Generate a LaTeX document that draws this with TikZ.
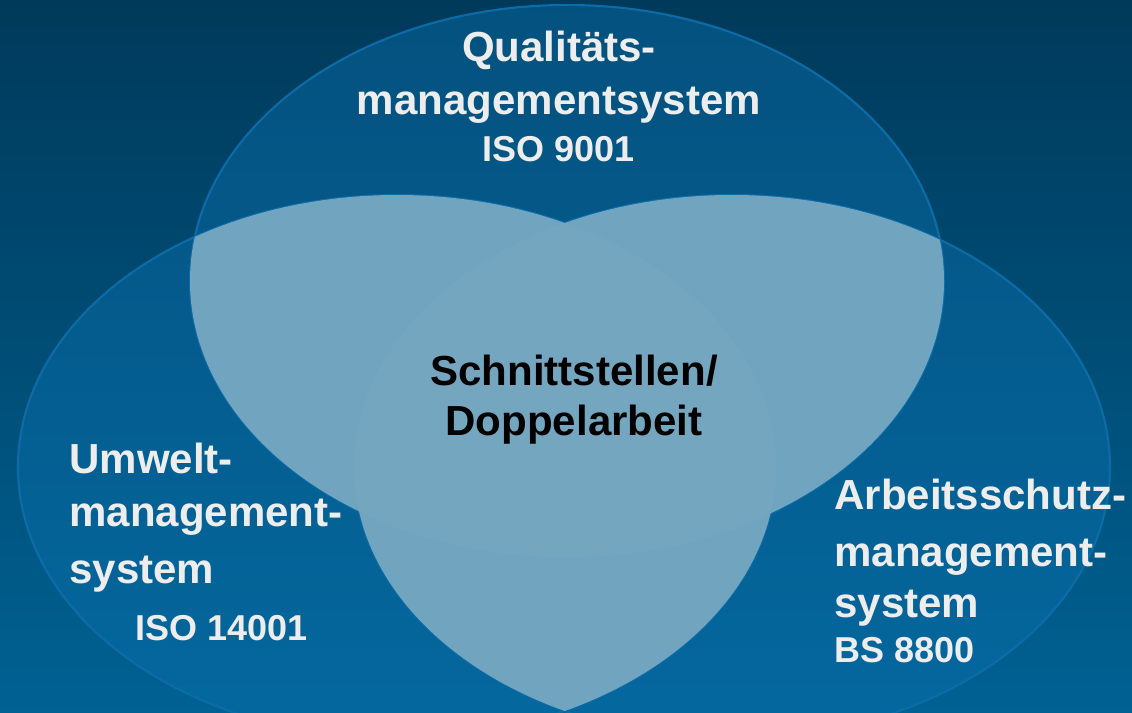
\documentclass[tikz,border=0pt]{standalone}
\usepackage{fontspec}
\setmainfont{Liberation Sans}
\definecolor{bgtop}{HTML}{003A5B}
\definecolor{bgbottom}{HTML}{006192}
\definecolor{ringfill}{HTML}{0A72B0}
\definecolor{ringline}{HTML}{0B6CA8}
\definecolor{overlap}{HTML}{76A7C1}
\definecolor{labeltext}{HTML}{EDEDED}
\begin{document}
\begin{tikzpicture}[x=0.025cm,y=0.025cm,
	ring/.style={fill=ringfill,fill opacity=0.42},
	ringedge/.style={draw=ringline,line width=1.5pt},
	ringtext/.style={inner sep=0pt,text=labeltext,font=\fontsize{29.9}{38}\selectfont\bfseries},
	coretext/.style={inner sep=0pt,text=black,align=center,font=\fontsize{29.9}{35.6}\selectfont\bfseries}]
	\useasboundingbox (0,0) rectangle (1132,712);
	\shade[top color=bgtop,bottom color=bgbottom] (0,0) rectangle (1132,712);
	% the three systems
	\fill[ring] (567,431) ellipse [x radius=377,y radius=276];
	\fill[ring] (397,245) ellipse [x radius=379,y radius=272];
	\fill[ring] (732,245) ellipse [x radius=378,y radius=272];
	\draw[ringedge] (567,431) ellipse [x radius=377,y radius=276];
	\draw[ringedge] (397,245) ellipse [x radius=379,y radius=272];
	\draw[ringedge] (732,245) ellipse [x radius=378,y radius=272];
	% overlaps
	\begin{scope}[fill opacity=0.96]
		\begin{scope}
			\clip (567,431) ellipse [x radius=377,y radius=276];
			\fill[overlap] (397,245) ellipse [x radius=379,y radius=272];
			\fill[overlap] (732,245) ellipse [x radius=378,y radius=272];
		\end{scope}
		\begin{scope}
			\clip (397,245) ellipse [x radius=379,y radius=272];
			\fill[overlap] (732,245) ellipse [x radius=378,y radius=272];
		\end{scope}
	\end{scope}
	\node[ringtext,align=center,anchor=base] (qms) at (559,550)
		{Qualitäts-\\[-0.5pt]managementsystem\\[-4pt]{\fontsize{25.6}{30}\selectfont ISO 9001}};
	\node[ringtext,align=left,anchor=base west] (ums) at (69,72)
		{Umwelt-\\[-0.3pt]management-\\[2.5pt]system\\[2.5pt]\hspace*{47pt}{\fontsize{25.6}{30}\selectfont ISO 14001}};
	\node[ringtext,align=left,anchor=base west] (ams) at (834,50)
		{Arbeitsschutz-\\[2.8pt]management-\\[-2.4pt]system\\[-6pt]{\fontsize{25.6}{30}\selectfont BS 8800}};
	\node[coretext,anchor=base] (core) at (574,276) {Schnittstellen/\\Doppelarbeit};
\end{tikzpicture}
\end{document}
